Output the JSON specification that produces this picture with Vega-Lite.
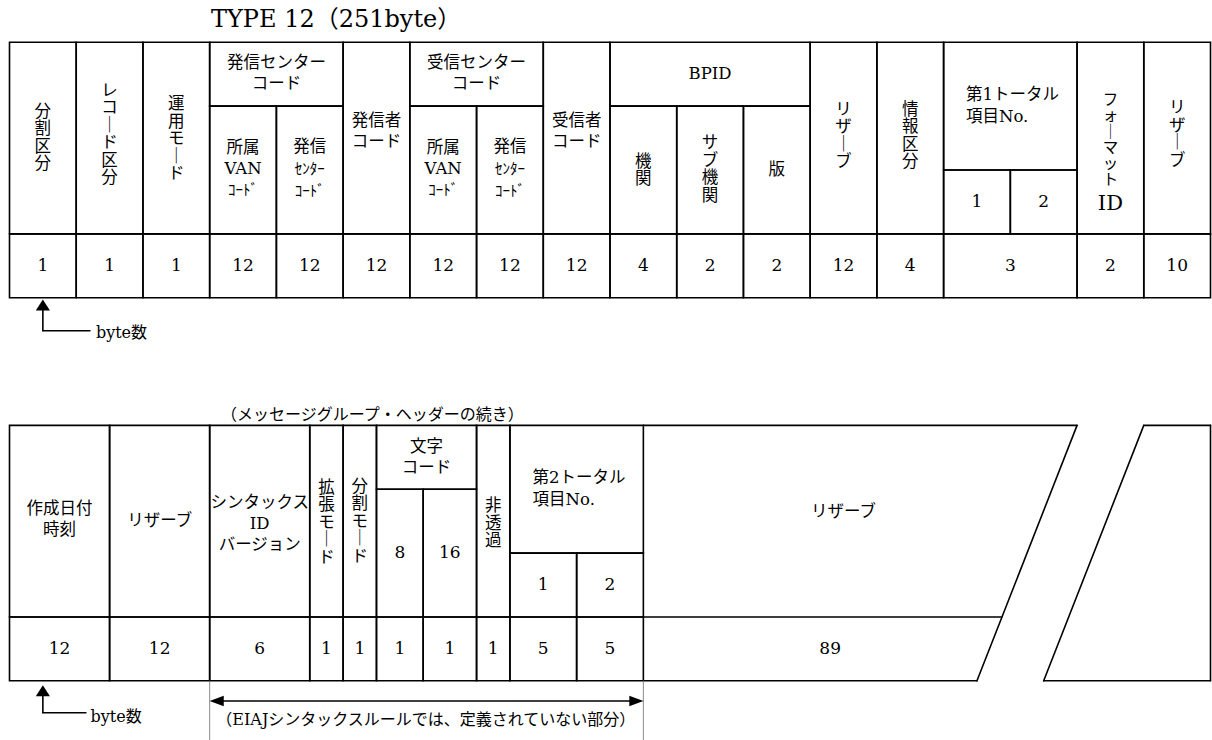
{
  "$schema": "https://vega.github.io/schema/vega-lite/v6.json",
  "width": 1212,
  "height": 740,
  "padding": 0,
  "autosize": {"type": "none"},
  "background": "white",
  "config": {
    "view": {"stroke": null},
    "text": {"font": "DejaVu Serif, Noto Sans CJK JP", "color": "black"}
  },
  "datasets": {
    "cells": [
      {"x": 0, "x2": 2, "y": 0, "y2": 3}, {"x": 2, "x2": 4, "y": 0, "y2": 3}, {"x": 4, "x2": 6, "y": 0, "y2": 3},
      {"x": 6, "x2": 10, "y": 0, "y2": 1}, {"x": 6, "x2": 8, "y": 1, "y2": 3}, {"x": 8, "x2": 10, "y": 1, "y2": 3},
      {"x": 10, "x2": 12, "y": 0, "y2": 3},
      {"x": 12, "x2": 16, "y": 0, "y2": 1}, {"x": 12, "x2": 14, "y": 1, "y2": 3}, {"x": 14, "x2": 16, "y": 1, "y2": 3},
      {"x": 16, "x2": 18, "y": 0, "y2": 3},
      {"x": 18, "x2": 24, "y": 0, "y2": 1}, {"x": 18, "x2": 20, "y": 1, "y2": 3}, {"x": 20, "x2": 22, "y": 1, "y2": 3}, {"x": 22, "x2": 24, "y": 1, "y2": 3},
      {"x": 24, "x2": 26, "y": 0, "y2": 3}, {"x": 26, "x2": 28, "y": 0, "y2": 3},
      {"x": 28, "x2": 32, "y": 0, "y2": 2}, {"x": 28, "x2": 30, "y": 2, "y2": 3}, {"x": 30, "x2": 32, "y": 2, "y2": 3},
      {"x": 32, "x2": 34, "y": 0, "y2": 3}, {"x": 34, "x2": 36, "y": 0, "y2": 3},
      {"x": 0, "x2": 2, "y": 3, "y2": 4}, {"x": 2, "x2": 4, "y": 3, "y2": 4}, {"x": 4, "x2": 6, "y": 3, "y2": 4},
      {"x": 6, "x2": 8, "y": 3, "y2": 4}, {"x": 8, "x2": 10, "y": 3, "y2": 4}, {"x": 10, "x2": 12, "y": 3, "y2": 4},
      {"x": 12, "x2": 14, "y": 3, "y2": 4}, {"x": 14, "x2": 16, "y": 3, "y2": 4}, {"x": 16, "x2": 18, "y": 3, "y2": 4},
      {"x": 18, "x2": 20, "y": 3, "y2": 4}, {"x": 20, "x2": 22, "y": 3, "y2": 4}, {"x": 22, "x2": 24, "y": 3, "y2": 4},
      {"x": 24, "x2": 26, "y": 3, "y2": 4}, {"x": 26, "x2": 28, "y": 3, "y2": 4}, {"x": 28, "x2": 32, "y": 3, "y2": 4},
      {"x": 32, "x2": 34, "y": 3, "y2": 4}, {"x": 34, "x2": 36, "y": 3, "y2": 4},
      {"x": 0, "x2": 3, "y": 6, "y2": 9}, {"x": 3, "x2": 6, "y": 6, "y2": 9}, {"x": 6, "x2": 9, "y": 6, "y2": 9},
      {"x": 9, "x2": 10, "y": 6, "y2": 9}, {"x": 10, "x2": 11, "y": 6, "y2": 9},
      {"x": 11, "x2": 14, "y": 6, "y2": 7}, {"x": 11, "x2": 12.4, "y": 7, "y2": 9}, {"x": 12.4, "x2": 14, "y": 7, "y2": 9},
      {"x": 14, "x2": 15, "y": 6, "y2": 9},
      {"x": 15, "x2": 19, "y": 6, "y2": 8}, {"x": 15, "x2": 17, "y": 8, "y2": 9}, {"x": 17, "x2": 19, "y": 8, "y2": 9},
      {"x": 0, "x2": 3, "y": 9, "y2": 10}, {"x": 3, "x2": 6, "y": 9, "y2": 10}, {"x": 6, "x2": 9, "y": 9, "y2": 10},
      {"x": 9, "x2": 10, "y": 9, "y2": 10}, {"x": 10, "x2": 11, "y": 9, "y2": 10}, {"x": 11, "x2": 12.4, "y": 9, "y2": 10},
      {"x": 12.4, "x2": 14, "y": 9, "y2": 10}, {"x": 14, "x2": 15, "y": 9, "y2": 10}, {"x": 15, "x2": 17, "y": 9, "y2": 10},
      {"x": 17, "x2": 19, "y": 9, "y2": 10}
    ],
    "lines": [
      {"x": 19, "x2": 32, "y": 6, "y2": 6},
      {"x": 32, "x2": 29, "y": 6, "y2": 10},
      {"x": 19, "x2": 29, "y": 10, "y2": 10},
      {"x": 19, "x2": 29.75, "y": 9, "y2": 9},
      {"x": 34, "x2": 36, "y": 6, "y2": 6},
      {"x": 36, "x2": 36, "y": 6, "y2": 10},
      {"x": 31, "x2": 36, "y": 10, "y2": 10},
      {"x": 34, "x2": 31, "y": 6, "y2": 10},
      {"x": 1, "x2": 1, "y": 4.19, "y2": 4.517},
      {"x": 1, "x2": 2.41, "y": 4.517, "y2": 4.517},
      {"x": 1, "x2": 1, "y": 10.23, "y2": 10.5},
      {"x": 1, "x2": 2.29, "y": 10.5, "y2": 10.5},
      {"x": 6.2, "x2": 18.8, "y": 10.316, "y2": 10.316}
    ],
    "guides": [
      {"x": 6, "x2": 6, "y": 10, "y2": 10.93},
      {"x": 19, "x2": 19, "y": 10, "y2": 10.93}
    ],
    "heads": [
      {"x": 1, "y": 4.114, "dir": "up"},
      {"x": 1, "y": 10.157, "dir": "up"},
      {"x": 6.21, "y": 10.316, "dir": "left"},
      {"x": 18.79, "y": 10.316, "dir": "right"}
    ],
    "texts": [
      {"t": "TYPE 12（251byte）", "x": 6.04, "y": -0.244, "k": "title"},
      {"t": "分\n割\n区\n分", "x": 1, "y": 1.09, "k": "v"},
      {"t": "レ\nコ\n｜\nド\n区\n分", "x": 3, "y": 0.76, "k": "v"},
      {"t": "運\n用\nモ\n｜\nド", "x": 5, "y": 0.97, "k": "v"},
      {"t": "機\n関", "x": 19, "y": 1.87, "k": "v"},
      {"t": "サ\nブ\n機\n関", "x": 21, "y": 1.58, "k": "v"},
      {"t": "リ\nザ\n｜\nブ", "x": 25, "y": 1.06, "k": "v"},
      {"t": "情\n報\n区\n分", "x": 27, "y": 1.06, "k": "v"},
      {"t": "フ\nォ\n｜\nマ\nッ\nト", "x": 33, "y": 0.9, "k": "vt"},
      {"t": "リ\nザ\n｜\nブ", "x": 35, "y": 1.03, "k": "v"},
      {"t": "拡\n張\nモ\n｜\nド", "x": 9.5, "y": 6.98, "k": "v"},
      {"t": "分\n割\nモ\n｜\nド", "x": 10.5, "y": 6.96, "k": "v"},
      {"t": "非\n透\n過", "x": 14.5, "y": 7.27, "k": "v"},
      {"t": "発信センター\nコード", "x": 8, "y": 0.324, "k": "h"},
      {"t": "受信センター\nコード", "x": 14, "y": 0.324, "k": "h"},
      {"t": "発信者\nコード", "x": 11, "y": 1.23, "k": "h"},
      {"t": "受信者\nコード", "x": 17, "y": 1.24, "k": "h"},
      {"t": "所属\nVAN", "x": 7, "y": 1.648, "k": "h"},
      {"t": "所属\nVAN", "x": 13, "y": 1.648, "k": "h"},
      {"t": "発信", "x": 9, "y": 1.64, "k": "h"},
      {"t": "発信", "x": 15, "y": 1.64, "k": "h"},
      {"t": "BPID", "x": 21, "y": 0.49, "k": "h"},
      {"t": "版", "x": 23, "y": 2.0, "k": "h"},
      {"t": "作成日付\n時刻", "x": 1.5, "y": 7.314, "k": "h"},
      {"t": "リザーブ", "x": 4.5, "y": 7.5, "k": "h"},
      {"t": "シンタックス\nID\nバージョン", "x": 7.5, "y": 7.22, "k": "h"},
      {"t": "文字\nコード", "x": 12.5, "y": 6.334, "k": "h"},
      {"t": "リザーブ", "x": 25, "y": 7.35, "k": "h"},
      {"t": "第1トータル\n項目No.", "x": 28.67, "y": 0.825, "k": "hl"},
      {"t": "第2トータル\n項目No.", "x": 15.68, "y": 6.829, "k": "hl"},
      {"t": "ｺｰﾄﾞ", "x": 7, "y": 2.31, "k": "s"},
      {"t": "ｺｰﾄﾞ", "x": 13, "y": 2.31, "k": "s"},
      {"t": "ｾﾝﾀｰ", "x": 9, "y": 1.98, "k": "s"},
      {"t": "ｾﾝﾀｰ", "x": 15, "y": 1.98, "k": "s"},
      {"t": "ｺｰﾄﾞ", "x": 9, "y": 2.33, "k": "s"},
      {"t": "ｺｰﾄﾞ", "x": 15, "y": 2.33, "k": "s"},
      {"t": "ID", "x": 33, "y": 2.53, "k": "id"},
      {"t": "1", "x": 29, "y": 2.5, "k": "n"},
      {"t": "2", "x": 31, "y": 2.5, "k": "n"},
      {"t": "1", "x": 1, "y": 3.5, "k": "n"},
      {"t": "1", "x": 3, "y": 3.5, "k": "n"},
      {"t": "1", "x": 5, "y": 3.5, "k": "n"},
      {"t": "12", "x": 7, "y": 3.5, "k": "n"},
      {"t": "12", "x": 9, "y": 3.5, "k": "n"},
      {"t": "12", "x": 11, "y": 3.5, "k": "n"},
      {"t": "12", "x": 13, "y": 3.5, "k": "n"},
      {"t": "12", "x": 15, "y": 3.5, "k": "n"},
      {"t": "12", "x": 17, "y": 3.5, "k": "n"},
      {"t": "4", "x": 19, "y": 3.5, "k": "n"},
      {"t": "2", "x": 21, "y": 3.5, "k": "n"},
      {"t": "2", "x": 23, "y": 3.5, "k": "n"},
      {"t": "12", "x": 25, "y": 3.5, "k": "n"},
      {"t": "4", "x": 27, "y": 3.5, "k": "n"},
      {"t": "3", "x": 30, "y": 3.5, "k": "n"},
      {"t": "2", "x": 33, "y": 3.5, "k": "n"},
      {"t": "10", "x": 35, "y": 3.5, "k": "n"},
      {"t": "8", "x": 11.7, "y": 8.0, "k": "n"},
      {"t": "16", "x": 13.2, "y": 8.0, "k": "n"},
      {"t": "1", "x": 16, "y": 8.5, "k": "n"},
      {"t": "2", "x": 18, "y": 8.5, "k": "n"},
      {"t": "12", "x": 1.5, "y": 9.5, "k": "n"},
      {"t": "12", "x": 4.5, "y": 9.5, "k": "n"},
      {"t": "6", "x": 7.5, "y": 9.5, "k": "n"},
      {"t": "1", "x": 9.5, "y": 9.5, "k": "n"},
      {"t": "1", "x": 10.5, "y": 9.5, "k": "n"},
      {"t": "1", "x": 11.7, "y": 9.5, "k": "n"},
      {"t": "1", "x": 13.2, "y": 9.5, "k": "n"},
      {"t": "1", "x": 14.5, "y": 9.5, "k": "n"},
      {"t": "5", "x": 16, "y": 9.5, "k": "n"},
      {"t": "5", "x": 18, "y": 9.5, "k": "n"},
      {"t": "89", "x": 24.6, "y": 9.5, "k": "n"},
      {"t": "byte数", "x": 2.59, "y": 4.553, "k": "a"},
      {"t": "byte数", "x": 2.43, "y": 10.562, "k": "a"},
      {"t": "（メッセージグループ・ヘッダーの続き）", "x": 10.88, "y": 5.837, "k": "c"},
      {"t": "（EIAJシンタックスルールでは、定義されていない部分）", "x": 12.48, "y": 10.614, "k": "c"}
    ]
  },
  "encoding": {
    "x": {"field": "x", "type": "quantitative", "axis": null,
      "scale": {"domain": [-0.2848, 36.045], "range": [0, 1212], "nice": false, "zero": false}},
    "y": {"field": "y", "type": "quantitative", "axis": null,
      "scale": {"domain": [-0.6625, 10.927], "range": [0, 740], "nice": false, "zero": false}}
  },
  "layer": [
    {
      "data": {"name": "cells"},
      "mark": {"type": "rect", "fill": "white", "fillOpacity": 0, "stroke": "black", "strokeWidth": 1.6},
      "encoding": {"x2": {"field": "x2"}, "y2": {"field": "y2"}}
    },
    {
      "data": {"name": "lines"},
      "mark": {"type": "rule", "color": "black", "strokeWidth": 1.6, "strokeCap": "round"},
      "encoding": {"x2": {"field": "x2"}, "y2": {"field": "y2"}}
    },
    {
      "data": {"name": "guides"},
      "mark": {"type": "rule", "color": "#8a8a8a", "strokeWidth": 1},
      "encoding": {"x2": {"field": "x2"}, "y2": {"field": "y2"}}
    },
    {
      "data": {"name": "heads"},
      "mark": {"type": "point", "filled": true, "color": "black", "opacity": 1, "size": 200, "strokeWidth": 0},
      "encoding": {
        "shape": {"field": "dir", "type": "nominal", "legend": null,
          "scale": {"domain": ["up", "left", "right"],
            "range": ["M0,-0.78L1,0.78L-1,0.78Z", "M-1,0L1,-0.74L1,0.74Z", "M1,0L-1,-0.74L-1,0.74Z"]}}
      }
    },
    {
      "data": {"name": "texts"},
      "transform": [{"filter": "datum.k === 'title'"}],
      "mark": {"type": "text", "fontSize": 24, "align": "left", "baseline": "alphabetic"},
      "encoding": {"text": {"field": "t"}}
    },
    {
      "data": {"name": "texts"},
      "transform": [{"filter": "datum.k === 'v'"}],
      "mark": {"type": "text", "fontSize": 16.5, "align": "center", "baseline": "middle", "lineBreak": "\n", "lineHeight": 17.5},
      "encoding": {"text": {"field": "t"}}
    },
    {
      "data": {"name": "texts"},
      "transform": [{"filter": "datum.k === 'vt'"}],
      "mark": {"type": "text", "fontSize": 15.5, "align": "center", "baseline": "middle", "lineBreak": "\n", "lineHeight": 16},
      "encoding": {"text": {"field": "t"}}
    },
    {
      "data": {"name": "texts"},
      "transform": [{"filter": "datum.k === 'h'"}],
      "mark": {"type": "text", "fontSize": 16.5, "align": "center", "baseline": "middle", "lineBreak": "\n", "lineHeight": 21},
      "encoding": {"text": {"field": "t"}}
    },
    {
      "data": {"name": "texts"},
      "transform": [{"filter": "datum.k === 'hl'"}],
      "mark": {"type": "text", "fontSize": 16.5, "align": "left", "baseline": "middle", "lineBreak": "\n", "lineHeight": 22},
      "encoding": {"text": {"field": "t"}}
    },
    {
      "data": {"name": "texts"},
      "transform": [{"filter": "datum.k === 's'"}],
      "mark": {"type": "text", "fontSize": 15, "align": "center", "baseline": "middle"},
      "encoding": {"text": {"field": "t"}}
    },
    {
      "data": {"name": "texts"},
      "transform": [{"filter": "datum.k === 'id'"}],
      "mark": {"type": "text", "fontSize": 21, "align": "center", "baseline": "middle"},
      "encoding": {"text": {"field": "t"}}
    },
    {
      "data": {"name": "texts"},
      "transform": [{"filter": "datum.k === 'n'"}],
      "mark": {"type": "text", "fontSize": 17, "align": "center", "baseline": "middle"},
      "encoding": {"text": {"field": "t"}}
    },
    {
      "data": {"name": "texts"},
      "transform": [{"filter": "datum.k === 'a'"}],
      "mark": {"type": "text", "fontSize": 16, "align": "left", "baseline": "middle"},
      "encoding": {"text": {"field": "t"}}
    },
    {
      "data": {"name": "texts"},
      "transform": [{"filter": "datum.k === 'c'"}],
      "mark": {"type": "text", "fontSize": 16, "align": "center", "baseline": "middle"},
      "encoding": {"text": {"field": "t"}}
    }
  ]
}
